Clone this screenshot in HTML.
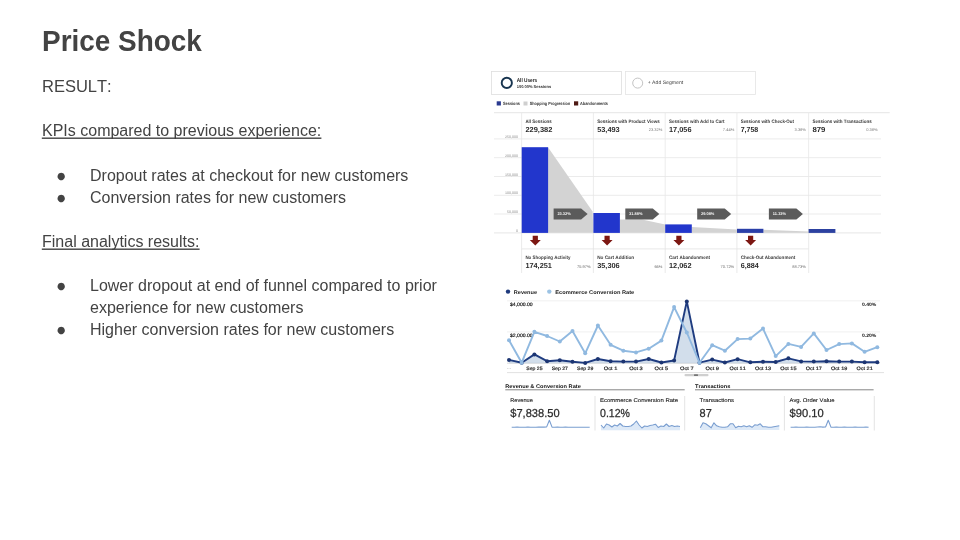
<!DOCTYPE html>
<html lang="en">
<head>
<meta charset="utf-8">
<title>Price Shock</title>
<style>
html,body{margin:0;padding:0;background:#fff;}
body{width:960px;height:540px;overflow:hidden;position:relative;font-family:"Liberation Sans",Arial,sans-serif;color:#434343;font-kerning:none;}
#title{transform-origin:0 0;transform:scaleX(0.963);position:absolute;left:42.3px;top:25px;font-size:29px;font-weight:bold;line-height:32px;white-space:nowrap;color:#434343;}
#body{position:absolute;left:0;top:0;width:480px;font-size:16px;line-height:22px;color:#434343;}
#body p{position:absolute;left:42px;margin:0;height:22px;white-space:nowrap;}
#body p.u span{text-decoration:none;}
#body p.b,#body p.c{left:90px;}
#body p.b i{position:absolute;left:-33px;top:0px;font-style:normal;font-size:9.6px;line-height:21px;font-family:"DejaVu Sans",sans-serif;}
#shot{position:absolute;left:0;top:0;width:960px;height:540px;filter:blur(0.45px);}
#shot text{font-family:"Liberation Sans",Arial,sans-serif;text-rendering:geometricPrecision;}
</style>
</head>
<body>
<div id="title">Price Shock</div>
<div id="body">
<p style="top:75px;font-size:16.5px">RESULT:</p>
<p class="u" style="top:120px"><span>KPIs compared to previous experience:</span></p>
<p class="b" style="top:165px"><i>●</i>Dropout rates at checkout for new customers</p>
<p class="b" style="top:187px"><i>●</i>Conversion rates for new customers</p>
<p class="u" style="top:231px"><span>Final analytics results:</span></p>
<p class="b" style="top:275px"><i>●</i>Lower dropout at end of funnel compared to prior</p>
<p class="c" style="top:297px">experience for new customers</p>
<p class="b" style="top:319px"><i>●</i>Higher conversion rates for new customers</p>
</div>
<svg id="ul" width="480" height="540" viewBox="0 0 480 540" style="position:absolute;left:0;top:0">
<rect x="41.8" y="137.5" width="279.6" height="1.4" fill="#434343"/>
<rect x="41.8" y="248.5" width="157.8" height="1.4" fill="#434343"/>
</svg>
<svg id="shot" width="960" height="540" viewBox="0 0 960 540">
<rect x="491.5" y="71.5" width="130" height="23" fill="#fff" stroke="#dedede" stroke-width="0.8"/>
<rect x="625.5" y="71.5" width="130" height="23" fill="#fff" stroke="#e4e4e4" stroke-width="0.8"/>
<circle cx="506.8" cy="82.9" r="5.1" fill="#fdfeff" stroke="#17344f" stroke-width="1.9"/>
<circle cx="637.7" cy="83.1" r="5" fill="#fff" stroke="#c4c4c4" stroke-width="1"/>
<text x="516.7" y="82.1" font-size="5.6" fill="#222" font-weight="bold" text-anchor="start" textLength="20.5" lengthAdjust="spacingAndGlyphs" >All Users</text>
<text x="516.7" y="87.7" font-size="4.2" fill="#333" font-weight="bold" text-anchor="start" textLength="34.5" lengthAdjust="spacingAndGlyphs" >100.00% Sessions</text>
<text x="647.7" y="83.8" font-size="5" fill="#444" font-weight="normal" text-anchor="start" textLength="35.5" lengthAdjust="spacingAndGlyphs" >+ Add Segment</text>
<rect x="496.7" y="101.3" width="4.2" height="4.2" fill="#2a3a90" />
<text x="503" y="105.2" font-size="4.5" fill="#333" font-weight="bold" text-anchor="start" textLength="17" lengthAdjust="spacingAndGlyphs" >Sessions</text>
<rect x="523.5" y="101.5" width="4" height="4" fill="#cfcfcf" />
<text x="529.7" y="105.2" font-size="4.5" fill="#333" font-weight="bold" text-anchor="start" textLength="40.5" lengthAdjust="spacingAndGlyphs" >Shopping Progression</text>
<rect x="574" y="101.3" width="4.2" height="4.2" fill="#4f1a14" />
<text x="580" y="105.2" font-size="4.5" fill="#333" font-weight="bold" text-anchor="start" textLength="28" lengthAdjust="spacingAndGlyphs" >Abandonments</text>
<line x1="494" y1="112.7" x2="889.7" y2="112.7" stroke="#dedede" stroke-width="0.8"/>
<line x1="494" y1="138.9" x2="881" y2="138.9" stroke="#e6e6e6" stroke-width="0.8"/>
<line x1="494" y1="157.7" x2="881" y2="157.7" stroke="#e6e6e6" stroke-width="0.8"/>
<line x1="494" y1="176.5" x2="881" y2="176.5" stroke="#e6e6e6" stroke-width="0.8"/>
<line x1="494" y1="195.3" x2="881" y2="195.3" stroke="#e6e6e6" stroke-width="0.8"/>
<line x1="494" y1="214" x2="881" y2="214" stroke="#e6e6e6" stroke-width="0.8"/>
<line x1="521.6" y1="112.7" x2="521.6" y2="233" stroke="#e7e7e7" stroke-width="0.8"/>
<line x1="593.4" y1="112.7" x2="593.4" y2="233" stroke="#e7e7e7" stroke-width="0.8"/>
<line x1="665.2" y1="112.7" x2="665.2" y2="233" stroke="#e7e7e7" stroke-width="0.8"/>
<line x1="736.9" y1="112.7" x2="736.9" y2="233" stroke="#e7e7e7" stroke-width="0.8"/>
<line x1="808.6" y1="112.7" x2="808.6" y2="233" stroke="#e7e7e7" stroke-width="0.8"/>
<line x1="521.6" y1="233" x2="521.6" y2="273" stroke="#e4e4e4" stroke-width="0.8"/>
<line x1="593.4" y1="233" x2="593.4" y2="273" stroke="#e4e4e4" stroke-width="0.8"/>
<line x1="665.2" y1="233" x2="665.2" y2="273" stroke="#e4e4e4" stroke-width="0.8"/>
<line x1="736.9" y1="233" x2="736.9" y2="273" stroke="#e4e4e4" stroke-width="0.8"/>
<line x1="808.7" y1="233" x2="808.7" y2="273" stroke="#e4e4e4" stroke-width="0.8"/>
<line x1="521.6" y1="248.9" x2="808.6" y2="248.9" stroke="#e2e2e2" stroke-width="0.8"/>
<text x="518" y="137.9" font-size="3.6" fill="#8a8a8a" font-weight="normal" text-anchor="end" >250,000</text>
<text x="518" y="156.7" font-size="3.6" fill="#8a8a8a" font-weight="normal" text-anchor="end" >200,000</text>
<text x="518" y="175.5" font-size="3.6" fill="#8a8a8a" font-weight="normal" text-anchor="end" >150,000</text>
<text x="518" y="194.3" font-size="3.6" fill="#8a8a8a" font-weight="normal" text-anchor="end" >100,000</text>
<text x="518" y="213" font-size="3.6" fill="#8a8a8a" font-weight="normal" text-anchor="end" >50,000</text>
<text x="518" y="231.7" font-size="3.6" fill="#8a8a8a" font-weight="normal" text-anchor="end" >0</text>
<text x="525.4" y="122.6" font-size="4.9" fill="#3a3a3a" font-weight="bold" text-anchor="start" textLength="26.4" lengthAdjust="spacingAndGlyphs" >All Sessions</text>
<text x="525.4" y="131.7" font-size="7.3" fill="#2b2b2b" font-weight="bold" text-anchor="start" textLength="27" lengthAdjust="spacingAndGlyphs" >229,382</text>
<text x="597.2" y="122.6" font-size="4.9" fill="#3a3a3a" font-weight="bold" text-anchor="start" textLength="62.5" lengthAdjust="spacingAndGlyphs" >Sessions with Product Views</text>
<text x="597.2" y="131.7" font-size="7.3" fill="#2b2b2b" font-weight="bold" text-anchor="start" textLength="22.5" lengthAdjust="spacingAndGlyphs" >53,493</text>
<text x="662.4" y="131.4" font-size="4" fill="#7a7a7a" font-weight="normal" text-anchor="end" >23.32%</text>
<text x="669" y="122.6" font-size="4.9" fill="#3a3a3a" font-weight="bold" text-anchor="start" textLength="55.5" lengthAdjust="spacingAndGlyphs" >Sessions with Add to Cart</text>
<text x="669" y="131.7" font-size="7.3" fill="#2b2b2b" font-weight="bold" text-anchor="start" textLength="22.5" lengthAdjust="spacingAndGlyphs" >17,056</text>
<text x="734.2" y="131.4" font-size="4" fill="#7a7a7a" font-weight="normal" text-anchor="end" >7.44%</text>
<text x="740.7" y="122.6" font-size="4.9" fill="#3a3a3a" font-weight="bold" text-anchor="start" textLength="53.3" lengthAdjust="spacingAndGlyphs" >Sessions with Check-Out</text>
<text x="740.7" y="131.7" font-size="7.3" fill="#2b2b2b" font-weight="bold" text-anchor="start" textLength="17.6" lengthAdjust="spacingAndGlyphs" >7,758</text>
<text x="805.9" y="131.4" font-size="4" fill="#7a7a7a" font-weight="normal" text-anchor="end" >3.38%</text>
<text x="812.4" y="122.6" font-size="4.9" fill="#3a3a3a" font-weight="bold" text-anchor="start" textLength="59.5" lengthAdjust="spacingAndGlyphs" >Sessions with Transactions</text>
<text x="812.4" y="131.7" font-size="7.3" fill="#2b2b2b" font-weight="bold" text-anchor="start" textLength="13" lengthAdjust="spacingAndGlyphs" >879</text>
<text x="877.6" y="131.4" font-size="4" fill="#7a7a7a" font-weight="normal" text-anchor="end" >0.38%</text>
<path d="M548 147.2 L592.6 211.6 L593.4 233 L548 233 Z" fill="#d3d3d3"/>
<path d="M619.8 219.4 L642 219.4 L665.2 224.6 L665.2 233 L619.8 233 Z" fill="#d3d3d3"/>
<path d="M691.8 227 L737 229.6 L737 233 L691.8 233 Z" fill="#d3d3d3"/>
<path d="M763.3 229.8 L808.6 231.6 L808.6 233 L763.3 233 Z" fill="#d3d3d3"/>
<line x1="494" y1="232.9" x2="881" y2="232.9" stroke="#e0e0e0" stroke-width="0.8"/>
<rect x="521.7" y="147.2" width="26.4" height="85.7" fill="#2236cc" />
<rect x="593.4" y="213" width="26.5" height="19.9" fill="#2236cc" />
<rect x="665.2" y="224.4" width="26.6" height="8.5" fill="#2236cc" />
<rect x="737" y="228.8" width="26.4" height="4.1" fill="#2a3fa8" />
<rect x="808.6" y="229" width="26.8" height="3.9" fill="#2c41a0" />
<path d="M553.6 208.6 H581.1 L587.6 214 L581.1 219.4 H553.6 Z" fill="#5b5b5b"/>
<text x="557.4" y="215.2" font-size="4" fill="#f4f4f4" font-weight="bold" text-anchor="start" textLength="13.3" lengthAdjust="spacingAndGlyphs" >23.32%</text>
<path d="M625.3 208.6 H652.8 L659.3 214 L652.8 219.4 H625.3 Z" fill="#5b5b5b"/>
<text x="629.1" y="215.2" font-size="4" fill="#f4f4f4" font-weight="bold" text-anchor="start" textLength="13.3" lengthAdjust="spacingAndGlyphs" >31.88%</text>
<path d="M697.2 208.6 H724.7 L731.2 214 L724.7 219.4 H697.2 Z" fill="#5b5b5b"/>
<text x="701" y="215.2" font-size="4" fill="#f4f4f4" font-weight="bold" text-anchor="start" textLength="13.3" lengthAdjust="spacingAndGlyphs" >29.08%</text>
<path d="M768.9 208.6 H796.4 L802.9 214 L796.4 219.4 H768.9 Z" fill="#5b5b5b"/>
<text x="772.7" y="215.2" font-size="4" fill="#f4f4f4" font-weight="bold" text-anchor="start" textLength="13.3" lengthAdjust="spacingAndGlyphs" >11.33%</text>
<path d="M532.7 235.8 H537.9 V239.9 H540.8 L535.3 245.4 L529.8 239.9 H532.7 Z" fill="#7c1712"/>
<path d="M604.5 235.8 H609.7 V239.9 H612.6 L607.1 245.4 L601.6 239.9 H604.5 Z" fill="#7c1712"/>
<path d="M676.3 235.8 H681.5 V239.9 H684.4 L678.9 245.4 L673.4 239.9 H676.3 Z" fill="#7c1712"/>
<path d="M748 235.8 H753.2 V239.9 H756.1 L750.6 245.4 L745.1 239.9 H748 Z" fill="#7c1712"/>
<text x="525.4" y="259.2" font-size="4.9" fill="#3a3a3a" font-weight="bold" text-anchor="start" textLength="45" lengthAdjust="spacingAndGlyphs" >No Shopping Activity</text>
<text x="525.4" y="268.4" font-size="7.3" fill="#2b2b2b" font-weight="bold" text-anchor="start" textLength="26.5" lengthAdjust="spacingAndGlyphs" >174,251</text>
<text x="590.6" y="268.2" font-size="4" fill="#6a6a6a" font-weight="normal" text-anchor="end" >75.97%</text>
<text x="597.2" y="259.2" font-size="4.9" fill="#3a3a3a" font-weight="bold" text-anchor="start" textLength="37" lengthAdjust="spacingAndGlyphs" >No Cart Addition</text>
<text x="597.2" y="268.4" font-size="7.3" fill="#2b2b2b" font-weight="bold" text-anchor="start" textLength="22.5" lengthAdjust="spacingAndGlyphs" >35,306</text>
<text x="662.4" y="268.2" font-size="4" fill="#6a6a6a" font-weight="normal" text-anchor="end" >66%</text>
<text x="669" y="259.2" font-size="4.9" fill="#3a3a3a" font-weight="bold" text-anchor="start" textLength="41" lengthAdjust="spacingAndGlyphs" >Cart Abandonment</text>
<text x="669" y="268.4" font-size="7.3" fill="#2b2b2b" font-weight="bold" text-anchor="start" textLength="22.5" lengthAdjust="spacingAndGlyphs" >12,062</text>
<text x="734.2" y="268.2" font-size="4" fill="#6a6a6a" font-weight="normal" text-anchor="end" >70.72%</text>
<text x="740.7" y="259.2" font-size="4.9" fill="#3a3a3a" font-weight="bold" text-anchor="start" textLength="54.5" lengthAdjust="spacingAndGlyphs" >Check-Out Abandonment</text>
<text x="740.7" y="268.4" font-size="7.3" fill="#2b2b2b" font-weight="bold" text-anchor="start" textLength="18" lengthAdjust="spacingAndGlyphs" >6,884</text>
<text x="805.9" y="268.2" font-size="4" fill="#6a6a6a" font-weight="normal" text-anchor="end" >88.73%</text>
<circle cx="508" cy="291.6" r="2.2" fill="#1f3a7d"/>
<text x="513.8" y="293.6" font-size="5.3" fill="#222" font-weight="bold" text-anchor="start" textLength="23.2" lengthAdjust="spacingAndGlyphs" >Revenue</text>
<circle cx="549.3" cy="291.6" r="2.2" fill="#9cc3e4"/>
<text x="555.3" y="293.6" font-size="5.3" fill="#222" font-weight="bold" text-anchor="start" textLength="79" lengthAdjust="spacingAndGlyphs" >Ecommerce Conversion Rate</text>
<line x1="507" y1="300.8" x2="880" y2="300.8" stroke="#ececec" stroke-width="0.8"/>
<line x1="507" y1="331.9" x2="880" y2="331.9" stroke="#ececec" stroke-width="0.8"/>
<line x1="507" y1="363.2" x2="880" y2="363.2" stroke="#cfcfcf" stroke-width="0.8"/>
<line x1="507" y1="372.6" x2="884" y2="372.6" stroke="#d9d9d9" stroke-width="0.8"/>
<text x="510" y="305.9" font-size="4.8" fill="#222" font-weight="normal" text-anchor="start" textLength="22.7" lengthAdjust="spacingAndGlyphs" stroke="#222" stroke-width="0.18">$4,000.00</text>
<text x="510" y="337.3" font-size="4.8" fill="#222" font-weight="normal" text-anchor="start" textLength="22.7" lengthAdjust="spacingAndGlyphs" stroke="#222" stroke-width="0.18">$2,000.00</text>
<text x="862" y="305.9" font-size="4.8" fill="#111" font-weight="bold" text-anchor="start" textLength="14.3" lengthAdjust="spacingAndGlyphs" >0.40%</text>
<text x="862" y="337.3" font-size="4.8" fill="#111" font-weight="bold" text-anchor="start" textLength="14.3" lengthAdjust="spacingAndGlyphs" >0.20%</text>
<polygon points="509,363.2 509,359.9 521.7,362.7 534.4,354.4 547.1,361.2 559.8,360.3 572.5,361.8 585.2,362.9 597.9,359 610.6,361.2 623.3,361.6 636,361.6 648.7,359 661.4,362.5 674.1,360.5 686.8,301.4 699.5,362.7 712.2,359.6 724.9,362.5 737.6,359.2 750.3,362.3 763,361.8 775.7,362 788.4,358.3 801.1,361.4 813.8,361.6 826.5,361.2 839.2,361.6 851.9,361.6 864.6,362.3 877.3,362.3 877.3,363.2" fill="#b4c8de" fill-opacity="0.6"/>
<polyline points="509,359.9 521.7,362.7 534.4,354.4 547.1,361.2 559.8,360.3 572.5,361.8 585.2,362.9 597.9,359 610.6,361.2 623.3,361.6 636,361.6 648.7,359 661.4,362.5 674.1,360.5 686.8,301.4 699.5,362.7 712.2,359.6 724.9,362.5 737.6,359.2 750.3,362.3 763,361.8 775.7,362 788.4,358.3 801.1,361.4 813.8,361.6 826.5,361.2 839.2,361.6 851.9,361.6 864.6,362.3 877.3,362.3" fill="none" stroke="#1f3c80" stroke-width="1.9" stroke-linejoin="round"/>
<circle cx="509" cy="359.9" r="2" fill="#1c3572"/>
<circle cx="521.7" cy="362.7" r="2" fill="#1c3572"/>
<circle cx="534.4" cy="354.4" r="2" fill="#1c3572"/>
<circle cx="547.1" cy="361.2" r="2" fill="#1c3572"/>
<circle cx="559.8" cy="360.3" r="2" fill="#1c3572"/>
<circle cx="572.5" cy="361.8" r="2" fill="#1c3572"/>
<circle cx="585.2" cy="362.9" r="2" fill="#1c3572"/>
<circle cx="597.9" cy="359" r="2" fill="#1c3572"/>
<circle cx="610.6" cy="361.2" r="2" fill="#1c3572"/>
<circle cx="623.3" cy="361.6" r="2" fill="#1c3572"/>
<circle cx="636" cy="361.6" r="2" fill="#1c3572"/>
<circle cx="648.7" cy="359" r="2" fill="#1c3572"/>
<circle cx="661.4" cy="362.5" r="2" fill="#1c3572"/>
<circle cx="674.1" cy="360.5" r="2" fill="#1c3572"/>
<circle cx="686.8" cy="301.4" r="2" fill="#1c3572"/>
<circle cx="699.5" cy="362.7" r="2" fill="#1c3572"/>
<circle cx="712.2" cy="359.6" r="2" fill="#1c3572"/>
<circle cx="724.9" cy="362.5" r="2" fill="#1c3572"/>
<circle cx="737.6" cy="359.2" r="2" fill="#1c3572"/>
<circle cx="750.3" cy="362.3" r="2" fill="#1c3572"/>
<circle cx="763" cy="361.8" r="2" fill="#1c3572"/>
<circle cx="775.7" cy="362" r="2" fill="#1c3572"/>
<circle cx="788.4" cy="358.3" r="2" fill="#1c3572"/>
<circle cx="801.1" cy="361.4" r="2" fill="#1c3572"/>
<circle cx="813.8" cy="361.6" r="2" fill="#1c3572"/>
<circle cx="826.5" cy="361.2" r="2" fill="#1c3572"/>
<circle cx="839.2" cy="361.6" r="2" fill="#1c3572"/>
<circle cx="851.9" cy="361.6" r="2" fill="#1c3572"/>
<circle cx="864.6" cy="362.3" r="2" fill="#1c3572"/>
<circle cx="877.3" cy="362.3" r="2" fill="#1c3572"/>
<polyline points="509,340.2 521.7,362.7 534.4,331.8 547.1,336 559.8,341.5 572.5,331 585.2,353.3 597.9,325.5 610.6,344.8 623.3,350.7 636,352.4 648.7,348.7 661.4,340.6 674.1,307.1 686.8,332.5 699.5,362.7 712.2,345.2 724.9,350.7 737.6,339.1 750.3,338.6 763,328.6 775.7,356.1 788.4,343.9 801.1,346.9 813.8,333.4 826.5,350 839.2,344.1 851.9,343.4 864.6,351.8 877.3,347.2" fill="none" stroke="#90b9e0" stroke-width="1.9" stroke-linejoin="round"/>
<circle cx="509" cy="340.2" r="2" fill="#90b9e0"/>
<circle cx="521.7" cy="362.7" r="2" fill="#90b9e0"/>
<circle cx="534.4" cy="331.8" r="2" fill="#90b9e0"/>
<circle cx="547.1" cy="336" r="2" fill="#90b9e0"/>
<circle cx="559.8" cy="341.5" r="2" fill="#90b9e0"/>
<circle cx="572.5" cy="331" r="2" fill="#90b9e0"/>
<circle cx="585.2" cy="353.3" r="2" fill="#90b9e0"/>
<circle cx="597.9" cy="325.5" r="2" fill="#90b9e0"/>
<circle cx="610.6" cy="344.8" r="2" fill="#90b9e0"/>
<circle cx="623.3" cy="350.7" r="2" fill="#90b9e0"/>
<circle cx="636" cy="352.4" r="2" fill="#90b9e0"/>
<circle cx="648.7" cy="348.7" r="2" fill="#90b9e0"/>
<circle cx="661.4" cy="340.6" r="2" fill="#90b9e0"/>
<circle cx="674.1" cy="307.1" r="2" fill="#90b9e0"/>
<circle cx="686.8" cy="332.5" r="2" fill="#90b9e0"/>
<circle cx="699.5" cy="362.7" r="2" fill="#90b9e0"/>
<circle cx="712.2" cy="345.2" r="2" fill="#90b9e0"/>
<circle cx="724.9" cy="350.7" r="2" fill="#90b9e0"/>
<circle cx="737.6" cy="339.1" r="2" fill="#90b9e0"/>
<circle cx="750.3" cy="338.6" r="2" fill="#90b9e0"/>
<circle cx="763" cy="328.6" r="2" fill="#90b9e0"/>
<circle cx="775.7" cy="356.1" r="2" fill="#90b9e0"/>
<circle cx="788.4" cy="343.9" r="2" fill="#90b9e0"/>
<circle cx="801.1" cy="346.9" r="2" fill="#90b9e0"/>
<circle cx="813.8" cy="333.4" r="2" fill="#90b9e0"/>
<circle cx="826.5" cy="350" r="2" fill="#90b9e0"/>
<circle cx="839.2" cy="344.1" r="2" fill="#90b9e0"/>
<circle cx="851.9" cy="343.4" r="2" fill="#90b9e0"/>
<circle cx="864.6" cy="351.8" r="2" fill="#90b9e0"/>
<circle cx="877.3" cy="347.2" r="2" fill="#90b9e0"/>
<text x="509" y="369.3" font-size="4" fill="#666" font-weight="normal" text-anchor="middle" >…</text>
<text x="526.3" y="369.8" font-size="4.8" fill="#222" font-weight="normal" text-anchor="start" textLength="16.2" lengthAdjust="spacingAndGlyphs" stroke="#222" stroke-width="0.18">Sep 25</text>
<text x="551.7" y="369.8" font-size="4.8" fill="#222" font-weight="normal" text-anchor="start" textLength="16.2" lengthAdjust="spacingAndGlyphs" stroke="#222" stroke-width="0.18">Sep 27</text>
<text x="577.1" y="369.8" font-size="4.8" fill="#222" font-weight="normal" text-anchor="start" textLength="16.2" lengthAdjust="spacingAndGlyphs" stroke="#222" stroke-width="0.18">Sep 29</text>
<text x="603.8" y="369.8" font-size="4.8" fill="#222" font-weight="normal" text-anchor="start" textLength="13.6" lengthAdjust="spacingAndGlyphs" stroke="#222" stroke-width="0.18">Oct 1</text>
<text x="629.2" y="369.8" font-size="4.8" fill="#222" font-weight="normal" text-anchor="start" textLength="13.6" lengthAdjust="spacingAndGlyphs" stroke="#222" stroke-width="0.18">Oct 3</text>
<text x="654.6" y="369.8" font-size="4.8" fill="#222" font-weight="normal" text-anchor="start" textLength="13.6" lengthAdjust="spacingAndGlyphs" stroke="#222" stroke-width="0.18">Oct 5</text>
<text x="680" y="369.8" font-size="4.8" fill="#222" font-weight="normal" text-anchor="start" textLength="13.6" lengthAdjust="spacingAndGlyphs" stroke="#222" stroke-width="0.18">Oct 7</text>
<text x="705.4" y="369.8" font-size="4.8" fill="#222" font-weight="normal" text-anchor="start" textLength="13.6" lengthAdjust="spacingAndGlyphs" stroke="#222" stroke-width="0.18">Oct 9</text>
<text x="729.5" y="369.8" font-size="4.8" fill="#222" font-weight="normal" text-anchor="start" textLength="16.2" lengthAdjust="spacingAndGlyphs" stroke="#222" stroke-width="0.18">Oct 11</text>
<text x="754.9" y="369.8" font-size="4.8" fill="#222" font-weight="normal" text-anchor="start" textLength="16.2" lengthAdjust="spacingAndGlyphs" stroke="#222" stroke-width="0.18">Oct 13</text>
<text x="780.3" y="369.8" font-size="4.8" fill="#222" font-weight="normal" text-anchor="start" textLength="16.2" lengthAdjust="spacingAndGlyphs" stroke="#222" stroke-width="0.18">Oct 15</text>
<text x="805.7" y="369.8" font-size="4.8" fill="#222" font-weight="normal" text-anchor="start" textLength="16.2" lengthAdjust="spacingAndGlyphs" stroke="#222" stroke-width="0.18">Oct 17</text>
<text x="831.1" y="369.8" font-size="4.8" fill="#222" font-weight="normal" text-anchor="start" textLength="16.2" lengthAdjust="spacingAndGlyphs" stroke="#222" stroke-width="0.18">Oct 19</text>
<text x="856.5" y="369.8" font-size="4.8" fill="#222" font-weight="normal" text-anchor="start" textLength="16.2" lengthAdjust="spacingAndGlyphs" stroke="#222" stroke-width="0.18">Oct 21</text>
<rect x="684.5" y="374" width="24" height="2.2" fill="#cfcfcf" rx="1"/>
<rect x="694" y="374.3" width="4" height="1.6" fill="#777" rx="0.5"/>
<text x="505.3" y="387.6" font-size="5.3" fill="#111" font-weight="bold" text-anchor="start" textLength="75.5" lengthAdjust="spacingAndGlyphs" >Revenue &amp; Conversion Rate</text>
<line x1="505.3" y1="389.8" x2="684.7" y2="389.8" stroke="#777" stroke-width="0.9"/>
<text x="695" y="387.6" font-size="5.3" fill="#111" font-weight="bold" text-anchor="start" textLength="35.3" lengthAdjust="spacingAndGlyphs" >Transactions</text>
<line x1="695" y1="389.8" x2="873.6" y2="389.8" stroke="#777" stroke-width="0.9"/>
<line x1="595" y1="396" x2="595" y2="430.5" stroke="#dcdcdc" stroke-width="0.8"/>
<line x1="684.7" y1="396" x2="684.7" y2="430.5" stroke="#dcdcdc" stroke-width="0.8"/>
<line x1="784.4" y1="396" x2="784.4" y2="430.5" stroke="#dcdcdc" stroke-width="0.8"/>
<line x1="874.3" y1="396" x2="874.3" y2="430.5" stroke="#dcdcdc" stroke-width="0.8"/>
<text x="510.3" y="401.9" font-size="5.5" fill="#222" font-weight="normal" text-anchor="start" textLength="22.5" lengthAdjust="spacingAndGlyphs" stroke="#222" stroke-width="0.12">Revenue</text>
<text x="510.3" y="416.9" font-size="11.6" fill="#2a2a2a" font-weight="normal" text-anchor="start" textLength="49.3" lengthAdjust="spacingAndGlyphs" stroke="#2a2a2a" stroke-width="0.25">$7,838.50</text>
<text x="600" y="401.9" font-size="5.5" fill="#222" font-weight="normal" text-anchor="start" textLength="78" lengthAdjust="spacingAndGlyphs" stroke="#222" stroke-width="0.12">Ecommerce Conversion Rate</text>
<text x="600" y="416.9" font-size="11.6" fill="#2a2a2a" font-weight="normal" text-anchor="start" textLength="30" lengthAdjust="spacingAndGlyphs" stroke="#2a2a2a" stroke-width="0.25">0.12%</text>
<text x="699.6" y="401.9" font-size="5.5" fill="#222" font-weight="normal" text-anchor="start" textLength="34.5" lengthAdjust="spacingAndGlyphs" stroke="#222" stroke-width="0.12">Transactions</text>
<text x="699.6" y="416.9" font-size="11.6" fill="#2a2a2a" font-weight="normal" text-anchor="start" textLength="12.2" lengthAdjust="spacingAndGlyphs" stroke="#2a2a2a" stroke-width="0.25">87</text>
<text x="789.5" y="401.9" font-size="5.5" fill="#222" font-weight="normal" text-anchor="start" textLength="45" lengthAdjust="spacingAndGlyphs" stroke="#222" stroke-width="0.12">Avg. Order Value</text>
<text x="789.5" y="416.9" font-size="11.6" fill="#2a2a2a" font-weight="normal" text-anchor="start" textLength="34.2" lengthAdjust="spacingAndGlyphs" stroke="#2a2a2a" stroke-width="0.25">$90.10</text>
<polyline points="511.7,427.3 514.39,427.2 517.08,427 519.77,427.3 522.46,427.3 525.15,427.2 527.84,427.1 530.53,427.3 533.22,427.2 535.91,427.3 538.6,427.1 541.29,427 543.98,427.1 546.67,426.9 549.36,420.3 552.04,427.1 554.73,427.2 557.42,427.1 560.11,427.2 562.8,427.3 565.49,427.1 568.18,427.2 570.87,427.3 573.56,427.2 576.25,427.2 578.94,427.3 581.63,427.3 584.32,427.2 587.01,427.3 589.7,427.3" fill="none" stroke="#7a9ed0" stroke-width="1.1" stroke-linejoin="round"/>
<polygon points="601,430.2 601,425 603.72,428 606.45,424 609.17,425 611.9,427 614.62,425 617.34,426 620.07,423.5 622.79,426 625.52,426.5 628.24,426.5 630.97,426 633.69,424 636.41,421 639.14,425 641.86,428 644.59,426 647.31,426.5 650.03,425.5 652.76,425 655.48,424.2 658.21,427.5 660.93,426 663.66,426.5 666.38,424 669.1,426.5 671.83,425.5 674.55,426.5 677.28,426 680,426.5 680,430.2" fill="#cfe0f3" fill-opacity="0.7"/>
<polyline points="601,425 603.72,428 606.45,424 609.17,425 611.9,427 614.62,425 617.34,426 620.07,423.5 622.79,426 625.52,426.5 628.24,426.5 630.97,426 633.69,424 636.41,421 639.14,425 641.86,428 644.59,426 647.31,426.5 650.03,425.5 652.76,425 655.48,424.2 658.21,427.5 660.93,426 663.66,426.5 666.38,424 669.1,426.5 671.83,425.5 674.55,426.5 677.28,426 680,426.5" fill="none" stroke="#7a9ed0" stroke-width="1.1" stroke-linejoin="round"/>
<polygon points="700.3,430.0 700.3,427.8 703.02,422.8 705.75,423.8 708.47,425.8 711.2,427.8 713.92,422.8 716.64,425.8 719.37,426.8 722.09,427.3 724.82,427.3 727.54,426.8 730.27,423.8 732.99,423.8 735.71,427.8 738.44,426.3 741.16,426.8 743.89,425.8 746.61,426.8 749.33,425.8 752.06,427.3 754.78,424.8 757.51,425.3 760.23,423.8 762.96,426.8 765.68,426.8 768.4,427.3 771.13,427.3 773.85,426.8 776.58,426.3 779.3,425.8 779.3,430.0" fill="#cfe0f3" fill-opacity="0.7"/>
<polyline points="700.3,427.8 703.02,422.8 705.75,423.8 708.47,425.8 711.2,427.8 713.92,422.8 716.64,425.8 719.37,426.8 722.09,427.3 724.82,427.3 727.54,426.8 730.27,423.8 732.99,423.8 735.71,427.8 738.44,426.3 741.16,426.8 743.89,425.8 746.61,426.8 749.33,425.8 752.06,427.3 754.78,424.8 757.51,425.3 760.23,423.8 762.96,426.8 765.68,426.8 768.4,427.3 771.13,427.3 773.85,426.8 776.58,426.3 779.3,425.8" fill="none" stroke="#7a9ed0" stroke-width="1.1" stroke-linejoin="round"/>
<polyline points="790.6,427.3 793.29,427.2 795.98,427.1 798.67,427.3 801.36,427.3 804.05,427.2 806.74,427.1 809.43,427.3 812.12,427.2 814.81,427.3 817.5,427 820.19,426.7 822.88,427.1 825.57,427 828.26,420.3 830.94,427.1 833.63,427.3 836.32,427.1 839.01,427.2 841.7,427.3 844.39,427.1 847.08,427.2 849.77,427.3 852.46,427.2 855.15,427.1 857.84,427.3 860.53,427.3 863.22,427.2 865.91,427.1 868.6,427.3" fill="none" stroke="#7a9ed0" stroke-width="1.1" stroke-linejoin="round"/>
</svg>
</body>
</html>
